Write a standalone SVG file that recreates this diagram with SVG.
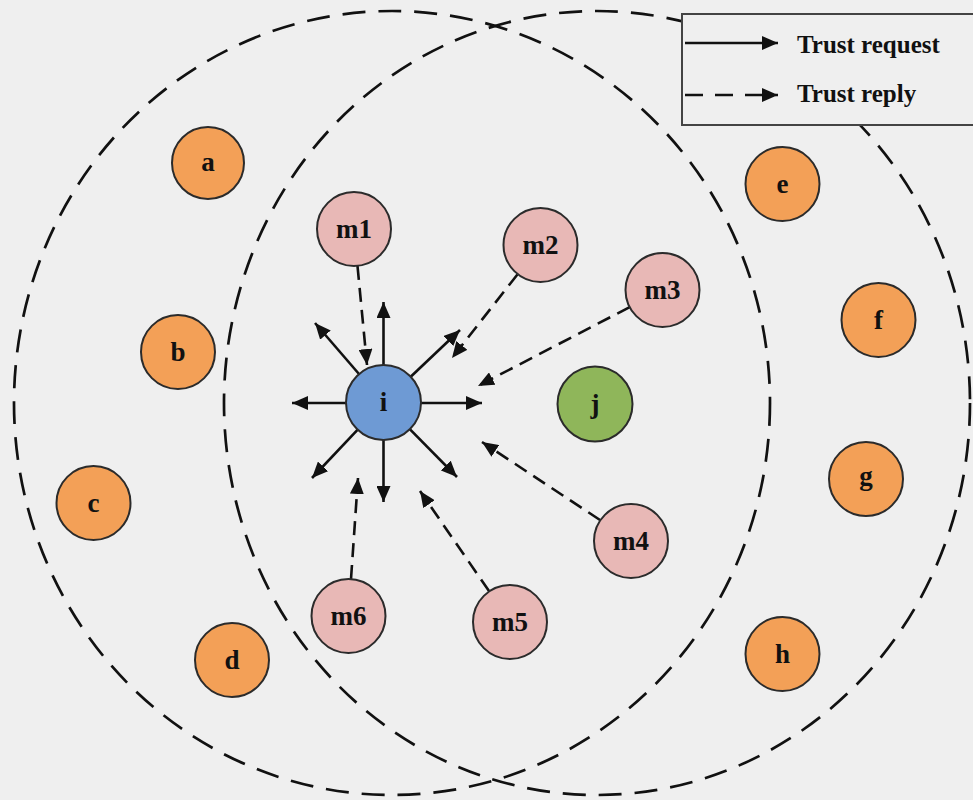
<svg xmlns="http://www.w3.org/2000/svg" width="973" height="800" viewBox="0 0 973 800">
<style>
.ring{fill:none;stroke:#111;stroke-width:2.7;stroke-dasharray:23 13}
.n{stroke:#2b2b2b;stroke-width:2}
.o{fill:#F3A057}
.p{fill:#E8B8B6}
.bl{fill:#6E9AD4}
.gr{fill:#8FB65A}
.lbl{font-family:"Liberation Serif","Times New Roman",serif;font-weight:bold;font-size:27px;fill:#111;text-anchor:middle}
.req{stroke:#111;stroke-width:2.6;fill:none;marker-end:url(#ah)}
.rep{stroke:#111;stroke-width:2.6;fill:none;stroke-dasharray:14 8;marker-end:url(#ah)}
.leg{font-family:"Liberation Serif","Times New Roman",serif;font-weight:bold;font-size:25px;fill:#111}
</style>
<defs>
<marker id="ah" markerUnits="userSpaceOnUse" markerWidth="17" markerHeight="14" refX="16" refY="7" orient="auto">
<path d="M0,0 L16,7 L0,14 z" fill="#111"/>
</marker>
</defs>
<rect width="973" height="800" fill="#EFEFEF"/>
<g id="rings">
<ellipse class="ring" cx="392" cy="403" rx="378" ry="392"/>
<ellipse class="ring" cx="597" cy="403" rx="373" ry="392"/>
</g>
<g id="connectors">
<line class="req" x1="383.5" y1="365" x2="383.5" y2="302"/>
<line class="req" x1="346" y1="403" x2="292" y2="403"/>
<line class="req" x1="421" y1="403" x2="482" y2="403"/>
<line class="req" x1="383.5" y1="440" x2="383.5" y2="502"/>
<line class="req" x1="359" y1="374" x2="315" y2="323"/>
<line class="req" x1="410.7" y1="376.7" x2="460" y2="330"/>
<line class="req" x1="357.7" y1="429.7" x2="312" y2="478"/>
<line class="req" x1="409.8" y1="429.2" x2="457" y2="477"/>
<line class="rep" x1="357.5" y1="266" x2="367" y2="365"/>
<line class="rep" x1="517.4" y1="274.5" x2="452" y2="358"/>
<line class="rep" x1="629.7" y1="307.1" x2="478" y2="386"/>
<line class="rep" x1="600" y1="520" x2="482" y2="442"/>
<line class="rep" x1="489" y1="591" x2="420" y2="491"/>
<line class="rep" x1="351" y1="579" x2="358" y2="478"/>
</g>
<g id="node-a"><circle class="n o" cx="208" cy="163" r="36"/><text class="lbl" x="208" y="171">a</text></g>
<g id="node-b"><circle class="n o" cx="178" cy="352" r="37"/><text class="lbl" x="178" y="361">b</text></g>
<g id="node-c"><circle class="n o" cx="93.5" cy="503" r="37"/><text class="lbl" x="93.5" y="512">c</text></g>
<g id="node-d"><circle class="n o" cx="232" cy="660" r="37"/><text class="lbl" x="232" y="669">d</text></g>
<g id="node-e"><circle class="n o" cx="782.5" cy="184" r="37"/><text class="lbl" x="782.5" y="193">e</text></g>
<g id="node-f"><circle class="n o" cx="878.5" cy="320" r="37"/><text class="lbl" x="878.5" y="329">f</text></g>
<g id="node-g"><circle class="n o" cx="866" cy="479" r="37"/><text class="lbl" x="866" y="485">g</text></g>
<g id="node-h"><circle class="n o" cx="782.5" cy="654" r="37"/><text class="lbl" x="782.5" y="663">h</text></g>
<g id="node-j"><circle class="n gr" cx="595" cy="404" r="37.5"/><text class="lbl" x="595" y="413">j</text></g>
<g id="node-i"><circle class="n bl" cx="383.5" cy="402.5" r="37.5"/><text class="lbl" x="383.5" y="411">i</text></g>
<g id="node-m1"><circle class="n p" cx="354" cy="229" r="37"/><text class="lbl" x="354" y="238">m1</text></g>
<g id="node-m2"><circle class="n p" cx="540.5" cy="245" r="37"/><text class="lbl" x="540.5" y="254">m2</text></g>
<g id="node-m3"><circle class="n p" cx="662.5" cy="290" r="37"/><text class="lbl" x="662.5" y="299">m3</text></g>
<g id="node-m4"><circle class="n p" cx="631" cy="541" r="37"/><text class="lbl" x="631" y="550">m4</text></g>
<g id="node-m5"><circle class="n p" cx="510" cy="622" r="37"/><text class="lbl" x="510" y="631">m5</text></g>
<g id="node-m6"><circle class="n p" cx="348.5" cy="616" r="37"/><text class="lbl" x="348.5" y="625">m6</text></g>
<g id="legend">
<rect x="682" y="14" width="300" height="111" fill="#EFEFEF" stroke="#444" stroke-width="2"/>
<line x1="685" y1="43" x2="778" y2="43" stroke="#111" stroke-width="2.6" marker-end="url(#ah)"/>
<line x1="685" y1="95" x2="778" y2="95" stroke="#111" stroke-width="2.6" stroke-dasharray="18 12" marker-end="url(#ah)"/>
<text class="leg" x="797" y="53">Trust request</text>
<text class="leg" x="797" y="102">Trust reply</text>
</g>
</svg>
